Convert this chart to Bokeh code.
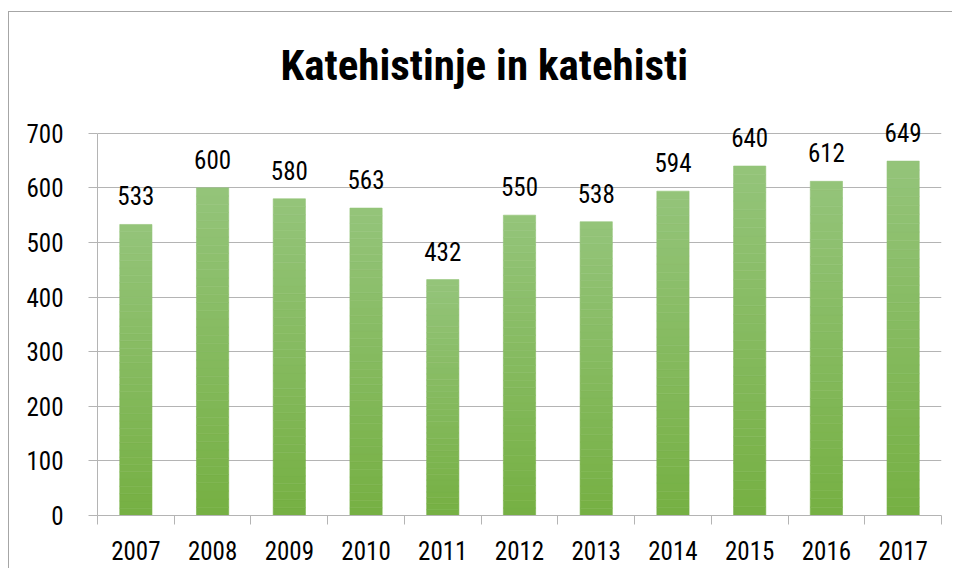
import numpy as np
from bokeh.plotting import figure
from bokeh.models import FixedTicker, ColumnDataSource, InlineStyleSheet
from bokeh.core.properties import value
from bokeh.embed import file_html
from bokeh.resources import INLINE

title_text = "Katehistinje in katehisti"
years = ["2007", "2008", "2009", "2010", "2011", "2012", "2013", "2014", "2015", "2016", "2017"]
counts = [533, 600, 580, 563, 432, 550, 538, 594, 640, 612, 649]
y_ticks = [0, 100, 200, 300, 400, 500, 600, 700]

FONT = "Roboto Condensed"
GRID = "#b4b4b4"
TOP_RGB = np.array([148, 196, 122])
BOT_RGB = np.array([118, 176, 67])

css = InlineStyleSheet(css=""":host { position: relative; }
:host::after { content: ''; position: absolute; left: 8px; top: 11px; right: 0; bottom: 0;
  border-left: 1px solid #a6a6a6; border-top: 1px solid #a6a6a6; pointer-events: none; }""")

# y range extends above the top tick so the value labels have room (axis bounded at 700)
p = figure(width=952, height=568, output_backend="svg", toolbar_location=None,
           x_range=(0, len(years)), y_range=(0, 760),
           min_border_left=97, min_border_right=11, min_border_top=100, min_border_bottom=53,
           stylesheets=[css])
p.outline_line_color = None
p.background_fill_color = "white"
p.border_fill_color = "white"

# bars with vertical gradient (approximated with slices)
xc = np.arange(len(years)) + 0.5
vals = np.array(counts, dtype=float)
N = 40
xs, bots, tops, cols = [], [], [], []
for k in range(N):
    f0, f1 = k / N, (k + 1) / N
    t = (k + 0.5) / N
    rgb = (BOT_RGB + (TOP_RGB - BOT_RGB) * t).round().astype(int)
    col = "#%02x%02x%02x" % tuple(rgb)
    for i in range(len(years)):
        xs.append(xc[i]); bots.append(vals[i] * f0); tops.append(vals[i] * f1); cols.append(col)
src = ColumnDataSource(dict(x=xs, bottom=bots, top=tops, color=cols))
p.vbar(x="x", bottom="bottom", top="top", width=0.42, fill_color="color", line_color="color",
       line_width=0.6, source=src)

# value labels
lsrc = ColumnDataSource(dict(x=xc, y=vals, t=[str(c) for c in counts]))
p.text(x="x", y="y", text="t", source=lsrc, text_align="center", text_baseline="bottom",
       y_offset=-19, text_font=value(FONT), text_font_size="25px", text_color="#000000")

# title
p.title.text = title_text
p.title.text_font = FONT
p.title.text_font_size = "43px"
p.title.text_font_style = "bold"
p.title.text_color = "#000000"
p.title.align = "left"
p.title.offset = 183
p.title.standoff = 21

# y axis
yax = p.yaxis[0]
yax.ticker = FixedTicker(ticks=y_ticks)
yax.bounds = (y_ticks[0], y_ticks[-1])
yax.axis_line_color = GRID
yax.major_tick_line_color = GRID
yax.major_tick_out = 9
yax.major_tick_in = 0
yax.minor_tick_line_color = None
yax.major_label_text_font = FONT
yax.major_label_text_font_size = "25px"
yax.major_label_text_color = "#000000"
yax.major_label_standoff = 25

# x axis
xax = p.xaxis[0]
xax.ticker = FixedTicker(ticks=list(xc), minor_ticks=list(range(len(years) + 1)))
xax.major_label_overrides = {float(x): y for x, y in zip(xc, years)}
xax.axis_line_color = GRID
xax.major_tick_line_color = None
xax.minor_tick_line_color = GRID
xax.minor_tick_out = 9
xax.minor_tick_in = 0
xax.major_label_text_font = FONT
xax.major_label_text_font_size = "25px"
xax.major_label_text_color = "#000000"
xax.major_label_standoff = 16

p.xgrid.grid_line_color = None
p.ygrid.grid_line_color = GRID
p.ygrid.grid_line_width = 1.2

open("out.html", "w").write(file_html(p, INLINE))
